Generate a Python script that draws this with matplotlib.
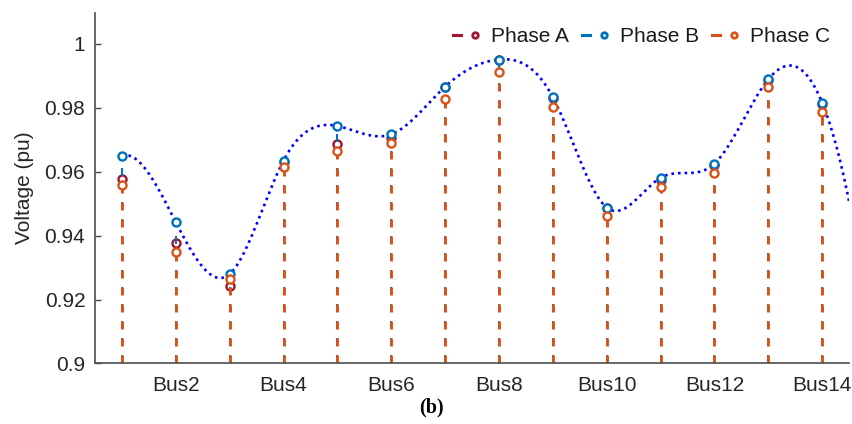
import numpy as np
import matplotlib
matplotlib.use("Agg")
import matplotlib.pyplot as plt
from matplotlib.lines import Line2D
from matplotlib.legend_handler import HandlerBase

buses = np.arange(1, 15)
phase_a = [0.9578, 0.9378, 0.9241, 0.9630, 0.9686, 0.9707, 0.9864, 0.9950,
           0.9830, 0.9485, 0.9575, 0.9620, 0.9887, 0.9813]
phase_b = [0.9650, 0.9442, 0.9280, 0.9635, 0.9743, 0.9717, 0.9866, 0.9951,
           0.9833, 0.9488, 0.9581, 0.9625, 0.9889, 0.9816]
phase_c = [0.9557, 0.9348, 0.9265, 0.9616, 0.9664, 0.9689, 0.9828, 0.9912,
           0.9802, 0.9462, 0.9552, 0.9596, 0.9864, 0.9787]
# trend curve knots: phase B values plus the curve's end value read at the right edge
trend_end_x = 14.5
trend_end_y = 0.9507
tick_pos = [2, 4, 6, 8, 10, 12, 14]
tick_labels = ["Bus2", "Bus4", "Bus6", "Bus8", "Bus10", "Bus12", "Bus14"]
series_names = ["Phase A", "Phase B", "Phase C"]
colors = ["#A2142F", "#0072BD", "#D95319"]


def not_a_knot_spline(x, y, xq):
    x = np.asarray(x, float)
    y = np.asarray(y, float)
    n = len(x)
    h = np.diff(x)
    A = np.zeros((n, n))
    r = np.zeros(n)
    A[0, 0] = h[1]
    A[0, 1] = -(h[0] + h[1])
    A[0, 2] = h[0]
    A[-1, -3] = h[-1]
    A[-1, -2] = -(h[-2] + h[-1])
    A[-1, -1] = h[-2]
    for i in range(1, n - 1):
        A[i, i - 1] = h[i - 1]
        A[i, i] = 2 * (h[i - 1] + h[i])
        A[i, i + 1] = h[i]
        r[i] = 6 * ((y[i + 1] - y[i]) / h[i] - (y[i] - y[i - 1]) / h[i - 1])
    M = np.linalg.solve(A, r)
    idx = np.clip(np.searchsorted(x, xq) - 1, 0, n - 2)
    xi, xi1 = x[idx], x[idx + 1]
    hi = xi1 - xi
    t1 = xi1 - xq
    t0 = xq - xi
    return (M[idx] * t1 ** 3 / (6 * hi) + M[idx + 1] * t0 ** 3 / (6 * hi)
            + (y[idx] / hi - M[idx] * hi / 6) * t1
            + (y[idx + 1] / hi - M[idx + 1] * hi / 6) * t0)


plt.rcParams["font.family"] = ["Liberation Sans", "DejaVu Sans"]
FS = 15
fig = plt.figure(figsize=(8.53, 4.24), dpi=100)
ax = fig.add_axes([0.1114, 0.1427, 0.884, 0.827])

handles = []
stem_widths = [1.3, 1.4, 2.1]
dash_px = (8.0, 9.0)
for vals, col, name, lw in zip([phase_a, phase_b, phase_c], colors,
                               series_names, stem_widths):
    ml, sl, bl = ax.stem(buses, vals, bottom=0.9, basefmt=" ")
    sl.set_color(col)
    sl.set_linewidth(lw)
    lw_px = lw * 100 / 72
    sl.set_linestyle((0, (dash_px[0] / lw_px, dash_px[1] / lw_px)))
    ml.set_marker("o")
    ml.set_markersize(5.8)
    ml.set_markerfacecolor("white")
    ml.set_markeredgecolor(col)
    ml.set_markeredgewidth(1.7)
    handles.append(Line2D([], [], color=col, label=name))

knot_x = np.append(buses, trend_end_x)
knot_y = np.append(phase_b, trend_end_y)
xs = np.linspace(1, trend_end_x, 400)
ax.plot(xs, not_a_knot_spline(knot_x, knot_y, xs), color="#0000FF",
        lw=1.9, linestyle=(0, (1, 1.5)), dash_capstyle="butt", zorder=1)


class StemHandler(HandlerBase):
    def create_artists(self, legend, orig_handle, xdescent, ydescent,
                       width, height, fontsize, trans):
        col = orig_handle.get_color()
        y = height / 2 - ydescent
        seg = Line2D([0.0 * width, 0.3 * width], [y, y], color=col, lw=2.2,
                     transform=trans)
        mk = Line2D([0.86 * width], [y], marker="o", markersize=4,
                    markerfacecolor="white", markeredgecolor=col,
                    markeredgewidth=2.0, linestyle="none", transform=trans)
        return [seg, mk]


leg = fig.legend(handles=handles, handler_map={Line2D: StemHandler()},
                 loc="upper right", ncol=3, frameon=False, fontsize=FS,
                 handlelength=1.25, handletextpad=0.58, columnspacing=0.62,
                 bbox_to_anchor=(0.983, 0.956), borderaxespad=0.0)
for t in leg.get_texts():
    t.set_color("#1a1a1a")

ax.set_xlim(0.5, 14.5)
ax.set_ylim(0.9, 1.0097)
ax.set_yticks([0.9, 0.92, 0.94, 0.96, 0.98, 1.0])
ax.set_yticklabels(["0.9", "0.92", "0.94", "0.96", "0.98", "1"])
ax.set_xticks(tick_pos)
ax.set_xticklabels(tick_labels)
ax.tick_params(axis="both", direction="in", labelsize=FS, colors="#4d4d4d",
               labelcolor="#262626", length=4, width=1.0)
ax.tick_params(axis="x", length=0, pad=9)
ax.tick_params(axis="y", pad=7)
for s in ["top", "right"]:
    ax.spines[s].set_visible(False)
for s in ["left", "bottom"]:
    ax.spines[s].set_color("#4d4d4d")
    ax.spines[s].set_linewidth(1.2)
ax.set_ylabel("Voltage (pu)", fontsize=FS, color="#262626")
ax.yaxis.set_label_coords(-0.081, 0.5)

fig.text(0.506, 0.038, "(b)", ha="center", va="center", fontsize=14.5,
         fontweight="bold", family=["Liberation Serif", "DejaVu Serif"])

fig.savefig("out.png", dpi=100)
